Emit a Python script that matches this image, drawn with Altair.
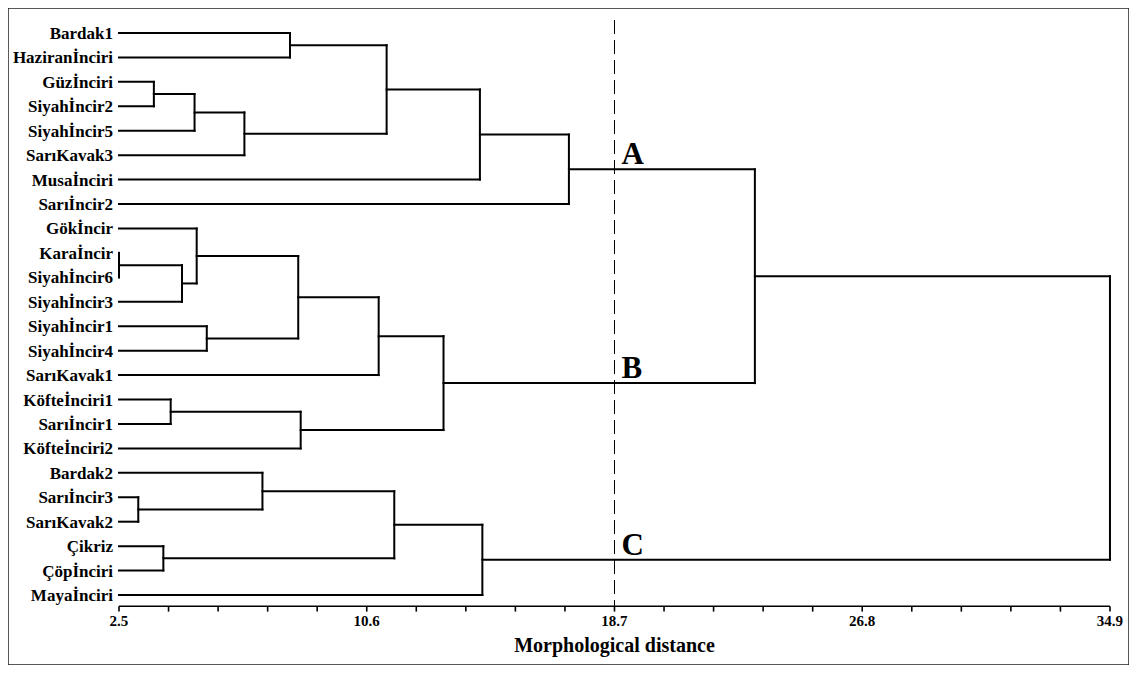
import altair as alt
import pandas as pd

# ---- data ----
leaves = ["Bardak1", "Haziranİnciri", "Güzİnciri", "Siyahİncir2", "Siyahİncir5",
          "SarıKavak3", "Musaİnciri", "Sarıİncir2", "Gökİncir", "Karaİncir",
          "Siyahİncir6", "Siyahİncir3", "Siyahİncir1", "Siyahİncir4", "SarıKavak1",
          "Köfteİnciri1", "Sarıİncir1", "Köfteİnciri2", "Bardak2", "Sarıİncir3",
          "SarıKavak2", "Çikriz", "Çöpİnciri", "Mayaİnciri"]

# merges: node 24 + i joins merge_a[i] and merge_b[i] at distance merge_h[i]
merge_a = [9, 24, 8, 12, 26, 28, 15, 30, 29, 19, 18, 21, 34, 36, 2, 38, 39, 0, 41, 42, 43, 44, 45]
merge_b = [10, 11, 25, 13, 27, 14, 16, 17, 31, 20, 33, 22, 35, 23, 3, 4, 5, 1, 40, 6, 7, 32, 37]
merge_h = [2.5, 4.56, 5.04, 5.37, 8.36, 10.99, 4.19, 8.44, 13.11, 3.13, 7.19, 3.95, 11.50,
           14.38, 3.64, 4.97, 6.60, 8.09, 11.25, 14.30, 17.21, 23.29, 34.9]

tick_values = [2.5, 4.12, 5.74, 7.36, 8.98, 10.6, 12.22, 13.84, 15.46, 17.08, 18.7,
               20.32, 21.94, 23.56, 25.18, 26.8, 28.42, 30.04, 31.66, 33.28, 34.9]
tick_labels = ["2.5", "10.6", "18.7", "26.8", "34.9"]
cut_value = 18.7
cluster_names = ["A", "B", "C"]
cluster_nodes = [44, 32, 37]
axis_title = "Morphological distance"

# ---- build dendrogram geometry from the merge table ----
n = len(leaves)
ypos = {i: float(i) for i in range(n)}
hpos = {i: 2.5 for i in range(n)}
segs = []
for i, (a, b, h) in enumerate(zip(merge_a, merge_b, merge_h)):
    node = n + i
    segs.append(dict(x=hpos[a], x2=h, y=ypos[a], y2=ypos[a]))
    segs.append(dict(x=hpos[b], x2=h, y=ypos[b], y2=ypos[b]))
    segs.append(dict(x=h, x2=h, y=ypos[a], y2=ypos[b]))
    ypos[node] = (ypos[a] + ypos[b]) / 2
    hpos[node] = h
seg_df = pd.DataFrame(segs)

leaf_df = pd.DataFrame({"name": leaves, "x": [2.5] * n, "y": list(range(n))})

AXIS_Y = 23.46
TICK_Y2 = 23.68
LABEL_Y = 24.28
TITLE_Y = 25.33
CUT_TOP = -0.53

tick_df = pd.DataFrame({"x": tick_values, "y": AXIS_Y, "y2": TICK_Y2})
tlab_df = pd.DataFrame({"x": [float(t) for t in tick_labels], "label": tick_labels, "y": LABEL_Y})
axis_df = pd.DataFrame({"x": [tick_values[0]], "x2": [tick_values[-1]], "y": [AXIS_Y]})
cut_df = pd.DataFrame({"x": [cut_value], "y": [CUT_TOP], "y2": [AXIS_Y]})
clus_df = pd.DataFrame({"name": cluster_names, "x": cut_value,
                        "y": [ypos[c] for c in cluster_nodes]})
title_df = pd.DataFrame({"x": [cut_value], "y": [TITLE_Y], "t": [axis_title]})

W, H = 1121, 657
xs = alt.Scale(domain=[-1.129, 35.522], nice=False, zero=False)
ys = alt.Scale(domain=[-1.023, 25.865], nice=False, zero=False, reverse=True)
FONT = "Liberation Serif"

def X(f="x"):
    return alt.X(f"{f}:Q", scale=xs, axis=None)

def Y(f="y"):
    return alt.Y(f"{f}:Q", scale=ys, axis=None)

dendro = alt.Chart(seg_df).mark_rule(color="black", strokeWidth=2, strokeCap="square").encode(
    x=X(), x2="x2:Q", y=Y(), y2="y2:Q")

leaf_text = alt.Chart(leaf_df).mark_text(align="right", baseline="middle", dx=-6, dy=1,
                                         font=FONT, fontWeight="bold", fontSize=17,
                                         color="black").encode(x=X(), y=Y(), text="name:N")

axis_line = alt.Chart(axis_df).mark_rule(color="black", strokeWidth=1.6).encode(
    x=X(), x2="x2:Q", y=Y())
ticks = alt.Chart(tick_df).mark_rule(color="black", strokeWidth=1.6).encode(
    x=X(), y=Y(), y2="y2:Q")
tick_text = alt.Chart(tlab_df).mark_text(align="center", baseline="alphabetic",
                                         font=FONT, fontWeight="bold", fontSize=15,
                                         color="black").encode(x=X(), y=Y(), text="label:N")
cut = alt.Chart(cut_df).mark_rule(color="black", strokeWidth=1, strokeDash=[14, 6]).encode(
    x=X(), y=Y(), y2="y2:Q")
clus = alt.Chart(clus_df).mark_text(align="left", baseline="alphabetic", dx=7, dy=-5,
                                    font=FONT, fontWeight="bold", fontSize=31,
                                    color="black").encode(x=X(), y=Y(), text="name:N")
title = alt.Chart(title_df).mark_text(align="center", baseline="alphabetic",
                                      font=FONT, fontWeight="bold", fontSize=20,
                                      color="black").encode(x=X(), y=Y(), text="t:N")

chart = alt.layer(dendro, leaf_text, axis_line, ticks, tick_text, cut, clus, title).properties(
    width=W, height=H, padding=0, autosize=alt.AutoSizeParams(type="none"),
    background="white"
).configure_view(stroke="#222", strokeWidth=1.5)

chart.save("out.html", embed_options={"renderer": "svg", "actions": False})
